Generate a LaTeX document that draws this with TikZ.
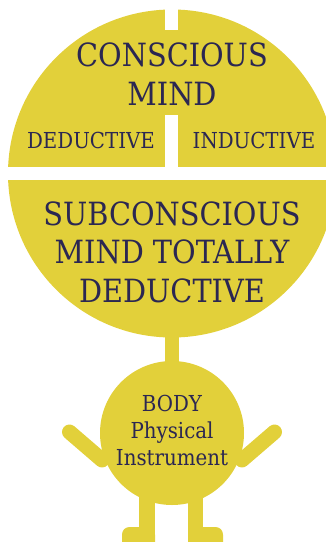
\documentclass[tikz,border=0pt]{standalone}
\usepackage{fontspec}
\setmainfont{DejaVu Serif Condensed}
\usepackage{tikz}
\usetikzlibrary{positioning}
\definecolor{mindyellow}{RGB}{226,208,58}
\definecolor{inkblue}{RGB}{43,39,82}
\tikzset{
  bigtext/.style={text=inkblue,align=center,inner sep=0pt,font=\fontsize{32}{38.5}\selectfont},
  smalltext/.style={text=inkblue,align=center,inner sep=0pt,font=\fontsize{22}{27}\selectfont},
  limb/.style={draw=mindyellow,line width=15pt,line cap=round},
  gapfill/.style={fill=white}
}
\begin{document}
\begin{tikzpicture}[x=1pt,y=-1pt]
  \useasboundingbox (0,0) rectangle (326,542);
  \clip (0,0) rectangle (326,542);

  % head, split by white gaps
  \fill[mindyellow] (172,173.5) circle[radius=164];
  \fill[gapfill] (0,167) rectangle (326,180);
  \fill[gapfill] (165,0) rectangle (178,30);
  \fill[gapfill] (165,115) rectangle (178,167);

  % neck, body, arms and legs
  \fill[mindyellow] (165,320) rectangle (179,370);
  \fill[mindyellow] (172,433) circle[radius=72];
  \draw[limb] (69.5,432) -- (102,460);
  \draw[limb] (274.5,432) -- (242,460);
  \fill[mindyellow] (139,490) rectangle (155,545);
  \fill[mindyellow,rounded corners=7.5pt] (122,527) rectangle (155,552);
  \fill[mindyellow] (188,490) rectangle (203,545);
  \fill[mindyellow,rounded corners=7.5pt] (188,527) rectangle (223,552);

  % base anchor sits on the last line
  \node[bigtext,anchor=base] (conscious) at (172,105) {CONSCIOUS\\MIND};
  \node[smalltext,anchor=base] (deductive) at (91,148) {DEDUCTIVE};
  \node[smalltext,anchor=base] (inductive) at (254,148) {INDUCTIVE};
  \node[bigtext,anchor=base] (subconscious) at (172,302) {SUBCONSCIOUS\\MIND TOTALLY\\DEDUCTIVE};
  \node[smalltext,anchor=base] (body) at (172,465) {BODY\\Physical\\Instrument};
\end{tikzpicture}
\end{document}
